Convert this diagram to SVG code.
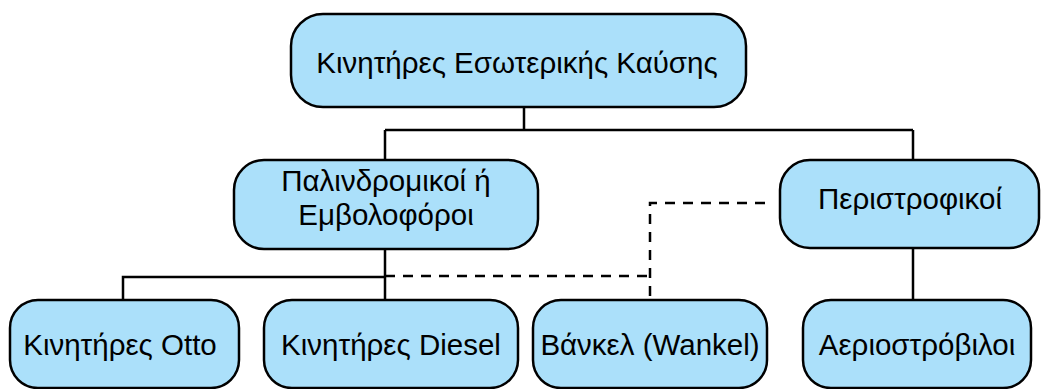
<svg xmlns="http://www.w3.org/2000/svg" width="1041" height="389" viewBox="0 0 1041 389">
<style>
.box{fill:#abe0fa;stroke:#000;stroke-width:2.5}
.t{font-family:"Liberation Sans",Arial,sans-serif;font-size:29.5px;fill:#000;text-anchor:middle}
.c{fill:none;stroke:#000;stroke-width:2.5}
.d{fill:none;stroke:#000;stroke-width:2.5;stroke-dasharray:10 8}
</style>
<rect width="1041" height="389" fill="#fff"/>
<g id="connectors">
<path class="c" d="M524 108V130M385 130H913M385 130V159M913 130V159"/>
<path class="c" d="M385 249V300M123 300V277H385"/>
<path class="c" d="M913 248V300"/>
<path class="d" d="M765 203H650V300M385 276H650"/>
</g>
<g id="n0"><rect class="box" x="291" y="14" width="455" height="93" rx="32"/><text class="t" x="517" y="65" dominant-baseline="middle">Κινητήρες Εσωτερικής Καύσης</text></g>
<g id="n1"><rect class="box" x="234" y="160" width="304" height="89" rx="30"/><text class="t" x="386" y="191">Παλινδρομικοί ή</text><text class="t" x="386" y="225">Εμβολοφόροι</text></g>
<g id="n2"><rect class="box" x="780" y="160" width="259" height="88" rx="30"/><text class="t" x="910" y="201" dominant-baseline="middle">Περιστροφικοί</text></g>
<g id="n3"><rect class="box" x="10" y="300" width="229" height="88" rx="28"/><text class="t" x="120" y="347" dominant-baseline="middle">Κινητήρες Otto</text></g>
<g id="n4"><rect class="box" x="264" y="300" width="254" height="88" rx="28"/><text class="t" x="391" y="347" dominant-baseline="middle">Κινητήρες Diesel</text></g>
<g id="n5"><rect class="box" x="533" y="300" width="234" height="88" rx="28"/><text class="t" x="650" y="347" dominant-baseline="middle">Βάνκελ (Wankel)</text></g>
<g id="n6"><rect class="box" x="803" y="300" width="228" height="88" rx="28"/><text class="t" x="917" y="347" dominant-baseline="middle">Αεριοστρόβιλοι</text></g>
</svg>
